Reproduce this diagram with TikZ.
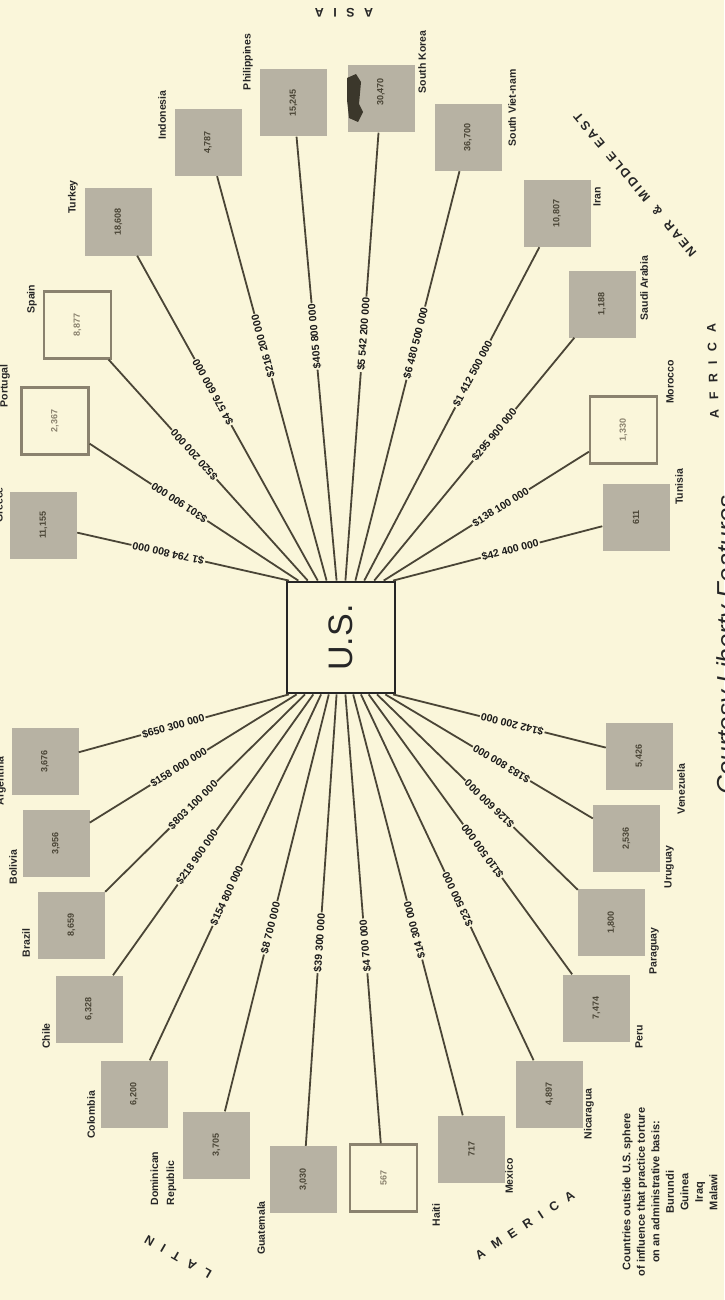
\documentclass[tikz,border=0pt]{standalone}
\usepackage{fontspec}
\setmainfont{Liberation Sans}
\usetikzlibrary{positioning, calc}

\definecolor{paper}{HTML}{FAF6DA}
\definecolor{shade}{HTML}{B7B2A3}
\definecolor{ink}{HTML}{4A4536}
\definecolor{rim}{HTML}{8A826E}
\newcommand{\gap}{\hspace{9.5pt}}
\newcommand{\tgap}{\hspace{2.5pt}}

\begin{document}
\begin{tikzpicture}[
		x=1pt, y=-1pt,
		font=\bfseries,
		% Country box styles
		aidbox/.style={fill=shade, minimum size=67pt, inner sep=0pt, rotate=90, font=\fontsize{9}{9}\bfseries, text=ink},
		openbox/.style={draw=rim, line width=2.2pt, fill=paper, minimum size=67pt, inner sep=0pt, rotate=90, font=\fontsize{9}{9}\bfseries, text=rim},
		cname/.style={rotate=90, inner sep=0pt, font=\fontsize{10.5}{11}\bfseries, text=black!85},
		usbox/.style={draw=black!85, line width=2.8pt, fill=paper, minimum width=108pt, minimum height=111pt},
		% Connector styles
		link/.style={draw=ink, line width=1.8pt},
		amount/.style={sloped, allow upside down, fill=paper, inner sep=1.2pt, font=\fontsize{10.5}{11}\bfseries, text=black!90},
		region/.style={inner sep=0pt, font=\fontsize{12.5}{13}\bfseries, text=black!85}
		]
		
		% page
		\fill[paper] (0,0) rectangle (724,1300);
		\useasboundingbox (0,0) rectangle (724,1300);
		
		% --- CENTRE ---
		\node[usbox] (US) at (341,637.5) {};
		\node[rotate=90, font=\fontsize{34}{34}\mdseries, text=black!85] (USname) at (US.center) {U.S.};
		
		% --- UPPER FAN: EUROPE, ASIA, NEAR EAST, AFRICA ---
		\node[aidbox] (greece) at (43.5,525) {11,155};
		\node[openbox] (portugal) at (55,421) {2,367};
		\node[openbox] (spain) at (77.5,325) {8,877};
		\node[aidbox] (turkey) at (118.5,222) {18,608};
		\node[aidbox] (indonesia) at (208,142.5) {4,787};
		\node[aidbox] (philippines) at (293.5,103) {15,245};
		\node[aidbox] (skorea) at (381,99) {\hspace{14pt}30,470};
		\fill[ink!80!black] (347,78) -- (356,74) -- (361,82) -- (359,104) -- (363,112) -- (358,122) -- (349,118) -- (347,100) -- cycle;
		\node[aidbox] (svietnam) at (468,137.5) {36,700};
		\node[aidbox] (iran) at (557,213.5) {10,807};
		\node[aidbox] (saudi) at (602,304) {1,188};
		\node[openbox] (morocco) at (623.5,430) {1,330};
		\node[aidbox] (tunisia) at (636,517.5) {611};
		
		\node[cname] (greeceName) at (-1,505) {Greece};
		\node[cname] (portugalName) at (5,386) {Portugal};
		\node[cname] (spainName) at (32,299) {Spain};
		\node[cname] (turkeyName) at (73,197) {Turkey};
		\node[cname] (indonesiaName) at (162,115) {Indonesia};
		\node[cname] (philippinesName) at (248,62) {Philippines};
		\node[cname] (skoreaName) at (422,62) {South Korea};
		\node[cname] (svietnamName) at (512,108) {South Viet-nam};
		\node[cname] (iranName) at (597,197) {Iran};
		\node[cname] (saudiName) at (644,288) {Saudi Arabia};
		\node[cname] (moroccoName) at (670,382) {Morocco};
		\node[cname] (tunisiaName) at (679,487) {Tunisia};
		
		\draw[link] ($(US.north west)!.03!(US.north east)$) -- node[amount, pos=.57] {\$1 794 800 000} (greece);
		\draw[link] ($(US.north west)!.115!(US.north east)$) -- node[amount, pos=.57] {\$301 900 000} (portugal);
		\draw[link] ($(US.north west)!.20!(US.north east)$) -- node[amount, pos=.57] {\$520 200 000} (spain);
		\draw[link] ($(US.north west)!.29!(US.north east)$) -- node[amount, pos=.58] {\$4 576 600 000} (turkey);
		\draw[link] ($(US.north west)!.37!(US.north east)$) -- node[amount, pos=.58] {\$216 200 000} (indonesia);
		\draw[link] ($(US.north west)!.46!(US.north east)$) -- node[amount, pos=.55] {\$405 800 000} (philippines);
		\draw[link] ($(US.north west)!.54!(US.north east)$) -- node[amount, pos=.55] {\$5 542 200 000} (skorea);
		\draw[link] ($(US.north west)!.63!(US.north east)$) -- node[amount, pos=.58] {\$6 480 500 000} (svietnam);
		\draw[link] ($(US.north west)!.71!(US.north east)$) -- node[amount, pos=.62] {\$1 412 500 000} (iran);
		\draw[link] ($(US.north west)!.80!(US.north east)$) -- node[amount, pos=.60] {\$295 900 000} (saudi);
		\draw[link] ($(US.north west)!.885!(US.north east)$) -- node[amount, pos=.57] {\$138 100 000} (morocco);
		\draw[link] ($(US.north west)!.97!(US.north east)$) -- node[amount, pos=.56] {\$42 400 000} (tunisia);
		
		% --- LOWER FAN: LATIN AMERICA ---
		\node[aidbox] (argentina) at (45,761.5) {3,676};
		\node[aidbox] (bolivia) at (56,843.5) {3,956};
		\node[aidbox] (brazil) at (71.5,925) {8,659};
		\node[aidbox] (chile) at (89,1009) {6,328};
		\node[aidbox] (colombia) at (134,1094) {6,200};
		\node[aidbox] (dominican) at (216.5,1145) {3,705};
		\node[aidbox] (guatemala) at (303.5,1179.5) {3,030};
		\node[openbox] (haiti) at (383.5,1178) {567};
		\node[aidbox] (mexico) at (471.5,1149) {717};
		\node[aidbox] (nicaragua) at (549.5,1094) {4,897};
		\node[aidbox] (peru) at (596.5,1008) {7,474};
		\node[aidbox] (paraguay) at (611.5,922.5) {1,800};
		\node[aidbox] (uruguay) at (626.5,838.5) {2,536};
		\node[aidbox] (venezuela) at (639.5,756) {5,426};
		
		\node[cname] (argentinaName) at (1,781) {Argentina};
		\node[cname] (boliviaName) at (13,867) {Bolivia};
		\node[cname] (brazilName) at (26,943) {Brazil};
		\node[cname] (chileName) at (46,1036) {Chile};
		\node[cname] (colombiaName) at (91,1115) {Colombia};
		\node[cname, align=left, font=\fontsize{10.5}{16}\bfseries] (dominicanName) at (163.5,1178.5) {Dominican\\Republic};
		\node[cname] (guatemalaName) at (261,1228) {Guatemala};
		\node[cname] (haitiName) at (436,1215) {Haiti};
		\node[cname] (mexicoName) at (509,1176) {Mexico};
		\node[cname] (nicaraguaName) at (589,1114) {Nicaragua};
		\node[cname] (peruName) at (639,1037) {Peru};
		\node[cname] (paraguayName) at (654,951) {Paraguay};
		\node[cname] (uruguayName) at (669,867) {Uruguay};
		\node[cname] (venezuelaName) at (681,789) {Venezuela};
		
		\draw[link] (argentina) -- node[amount, pos=.45] {\$650 300 000} ($(US.south west)!.03!(US.south east)$);
		\draw[link] (bolivia) -- node[amount, pos=.43] {\$158 000 000} ($(US.south west)!.10!(US.south east)$);
		\draw[link] (brazil) -- node[amount, pos=.44] {\$803 100 000} ($(US.south west)!.175!(US.south east)$);
		\draw[link] (chile) -- node[amount, pos=.42] {\$218 900 000} ($(US.south west)!.25!(US.south east)$);
		\draw[link] (colombia) -- node[amount, pos=.45] {\$154 800 000} ($(US.south west)!.32!(US.south east)$);
		\draw[link] (dominican) -- node[amount, pos=.44] {\$8 700 000} ($(US.south west)!.39!(US.south east)$);
		\draw[link] (guatemala) -- node[amount, pos=.45] {\$39 300 000} ($(US.south west)!.46!(US.south east)$);
		\draw[link] (haiti) -- node[amount, pos=.44] {\$4 700 000} ($(US.south west)!.54!(US.south east)$);
		\draw[link] (mexico) -- node[amount, pos=.44] {\$14 300 000} ($(US.south west)!.61!(US.south east)$);
		\draw[link] (nicaragua) -- node[amount, pos=.44] {\$23 500 000} ($(US.south west)!.68!(US.south east)$);
		\draw[link] (peru) -- node[amount, pos=.44] {\$110 500 000} ($(US.south west)!.75!(US.south east)$);
		\draw[link] (paraguay) -- node[amount, pos=.44] {\$126 600 000} ($(US.south west)!.825!(US.south east)$);
		\draw[link] (uruguay) -- node[amount, pos=.44] {\$183 800 000} ($(US.south west)!.90!(US.south east)$);
		\draw[link] (venezuela) -- node[amount, pos=.44] {\$142 200 000} ($(US.south west)!.97!(US.south east)$);
		
		% --- REGION NAMES ---
		\node[region, rotate=180] (asiaName) at (344,13) {A\gap S\gap I\gap A};
		\node[region, rotate=130] (nmeName) at (635,185) {N\tgap E\tgap A\tgap R\hspace{10pt}\&\hspace{10pt}M\tgap I\tgap D\tgap D\tgap L\tgap E\hspace{10pt}E\tgap A\tgap S\tgap T};
		\node[region, rotate=92] (africaName) at (713,371) {A\gap F\gap R\gap I\gap C\gap A};
		\node[region, rotate=150] (latinName) at (178,1257) {L\gap A\gap T\gap I\gap N};
		\node[region, rotate=33] (americaName) at (525,1225) {A\gap M\gap E\gap R\gap I\gap C\gap A};
		
		% --- NOTE AND CREDIT ---
		\node[rotate=90, align=center, inner sep=0pt, font=\fontsize{11}{14.5}\bfseries, text=black!85] (note) at (670,1192) {Countries outside U.S. sphere\\of influence that practice torture\\on an administrative basis:\\Burundi\\Guinea\\Iraq\\Malawi};
		\node[rotate=90, anchor=north, inner sep=0pt, font=\fontsize{26}{26}\mdseries\itshape, text=black!85] (credit) at (716,645) {Courtesy Liberty Features};
		
	\end{tikzpicture}
\end{document}
